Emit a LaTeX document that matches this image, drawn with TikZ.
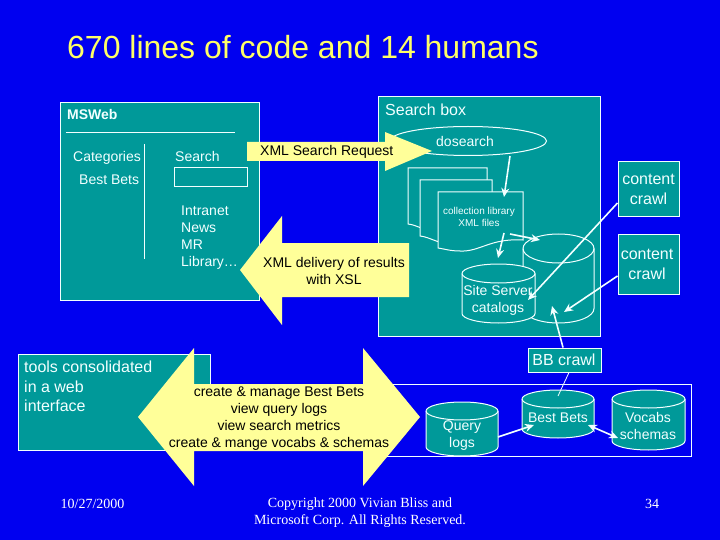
\documentclass[tikz,border=0pt]{standalone}
\usepackage{fontspec}
\setmainfont{Liberation Sans}
\newfontfamily\serifft{Liberation Serif}
\usetikzlibrary{arrows.meta,shapes.geometric}
\definecolor{bgblue}{HTML}{0000F0}
\definecolor{tealbox}{HTML}{009999}
\definecolor{paleyellow}{HTML}{FFFF99}
\definecolor{titleyellow}{HTML}{FFFF66}
\definecolor{softwhite}{HTML}{F2FFFF}
\tikzset{
  panel/.style={draw=softwhite,line width=1pt,fill=tealbox,rectangle,inner sep=0pt},
  flatline/.style={draw=softwhite,line width=1pt},
  docpage/.style={draw=softwhite,line width=1pt,fill=tealbox},
  storebody/.style={draw=softwhite,line width=1pt,fill=tealbox},
  bigarrow/.style={fill=paleyellow,draw=none},
  wlabel/.style={text=softwhite,inner sep=0pt,align=center,font=\fontsize{14}{17}\selectfont},
  wlarge/.style={text=softwhite,inner sep=0pt,align=center,font=\fontsize{16}{19.5}\selectfont},
  blabel/.style={text=black,inner sep=0pt,align=center,font=\fontsize{14}{17}\selectfont},
  footer/.style={text=white,inner sep=0pt,align=center,font=\serifft\fontsize{14}{17}\selectfont},
  flow/.style={draw=softwhite,line width=1.6pt,-{Stealth[length=9pt,width=8pt]}},
  flowboth/.style={draw=softwhite,line width=1.6pt,{Stealth[length=9pt,width=8pt]}-{Stealth[length=9pt,width=8pt]}},
  thin link/.style={draw=softwhite,line width=0.8pt}
}
% name, x1, y1, x2, y2, radius of the end ellipse
\newcommand\storecyl[6]{%
  \pgfmathsetmacro\cxx{(#2+#4)/2}\pgfmathsetmacro\cyy{(#3+#5)/2}%
  \pgfmathsetmacro\rxx{(#4-#2)/2}\pgfmathsetmacro\hh{#5-#3}\pgfmathsetmacro\ww{#4-#2}%
  \pgfmathsetmacro\kx{0.5523*\rxx}\pgfmathsetmacro\ky{0.5523*#6}%
  \pgfmathsetmacro\ytop{#3+#6}\pgfmathsetmacro\ybot{#5-#6}%
  \path[storebody] (#2,\ytop)
    .. controls (#2,\ytop-\ky) and (\cxx-\kx,#3) .. (\cxx,#3)
    .. controls (\cxx+\kx,#3) and (#4,\ytop-\ky) .. (#4,\ytop)
    -- (#4,\ybot)
    .. controls (#4,\ybot+\ky) and (\cxx+\kx,#5) .. (\cxx,#5)
    .. controls (\cxx-\kx,#5) and (#2,\ybot+\ky) .. (#2,\ybot)
    -- cycle;
  \draw[flatline] (#2,\ytop)
    .. controls (#2,\ytop+\ky) and (\cxx-\kx,\ytop+#6) .. (\cxx,\ytop+#6)
    .. controls (\cxx+\kx,\ytop+#6) and (#4,\ytop+\ky) .. (#4,\ytop);
  \node[inner sep=0pt,minimum width=\ww pt,minimum height=\hh pt] (#1) at (\cxx,\cyy) {};%
}
\begin{document}
\begin{tikzpicture}[x=1pt,y=-1pt]
\useasboundingbox (0,0) rectangle (720,540);
\fill[bgblue] (0,0) rectangle (720,540);
\node[text=titleyellow,inner sep=0pt,anchor=west,font=\fontsize{32}{38}\selectfont] (title) at (67,47) {670 lines of code and 14 humans};

% MSWeb panel
\node[panel,minimum width=199pt,minimum height=197pt] (msweb) at (159.5,201.5) {};
\draw[flatline] (66,133) -- (235,133);
\draw[flatline] (144,144) -- (144,259);
\node[wlabel,anchor=west,font=\bfseries\fontsize{14}{17}\selectfont] (mswebt) at (67,114) {MSWeb};
\node[wlabel,anchor=west] (categories) at (73,158) {Categories};
\node[wlabel,anchor=west] (bestbets) at (79,180) {Best Bets};
\node[wlabel,anchor=west] (searchl) at (175,156) {Search};
\node[panel,minimum width=73pt,minimum height=19pt] (searchfield) at (210.5,177.5) {};
\node[wlabel,anchor=north west,align=left] (sources) at (181,206) {Intranet\\News\\MR\\Library…};

% Search box panel
\node[panel,minimum width=222pt,minimum height=239pt] (searchbox) at (489.5,216.5) {};
\node[wlarge,anchor=west] (searchboxt) at (385,110) {Search box};
\node[ellipse,draw=softwhite,line width=1pt,fill=tealbox,minimum width=157pt,minimum height=29pt,inner sep=0pt] (dosearch) at (468,141) {};
\node[wlabel] (dosearcht) at (465,141) {dosearch};

% document stack
\draw[docpage] (408,168) -- (487,168) -- (487,228) -- (440,232) .. controls (425,232) and (418,225) .. (408,224) -- cycle;
\draw[docpage] (420,180) -- (492,180) -- (492,240) -- (452,244) .. controls (438,244) and (430,237) .. (420,236) -- cycle;
\draw[docpage] (438,192) -- (523,192) -- (523,240) .. controls (490,238) and (480,252) .. (460,251) .. controls (450,251) and (445,249) .. (438,248) -- cycle;
\node[text=softwhite,inner sep=0pt,align=center,font=\fontsize{10}{12.5}\selectfont] (collection) at (479,217) {collection library\\XML files};

% cylinders in the search box
\storecyl{contentstore}{523}{234}{594}{323}{14.5}
\storecyl{sitestore}{462}{264}{535}{323}{9.5}
\node[wlabel] (sitet) at (498,300) {Site Server\\catalogs};

% crawl boxes
\node[panel,minimum width=61pt,minimum height=55pt] (crawlA) at (648.5,189.5) {};
\node[wlarge] (crawlAt) at (648.5,189.5) {content\\crawl};
\node[panel,minimum width=61pt,minimum height=60pt] (crawlB) at (648.5,264) {};
\node[wlarge] (crawlBt) at (647,264.5) {content\\crawl};

% tools panel and admin band
\node[panel,minimum width=192pt,minimum height=96pt] (tools) at (114,402) {};
\node[wlarge,anchor=north west,align=left] (toolst) at (24,361) {tools consolidated\\in a web\\interface};
\node[draw=softwhite,line width=1pt,fill=bgblue,rectangle,inner sep=0pt,minimum width=321pt,minimum height=72pt] (adminband) at (530.5,420) {};

% cylinders in the band
\storecyl{querylogs}{426}{402}{498}{456}{9}
\node[wlabel] (queryt) at (462,436) {Query\\logs};
\storecyl{bestbetsdb}{522}{390}{594}{438}{9}
\node[wlabel] (bbdbt) at (558,418) {Best Bets};
\storecyl{vocabs}{612}{390}{685}{450}{9}
\node[wlabel] (vocabst) at (648,426) {Vocabs\\schemas};

% BB crawl
\node[panel,minimum width=73pt,minimum height=24pt] (bbcrawl) at (564.5,360) {};
\node[wlarge] (bbcrawlt) at (564,360) {BB crawl};

% large arrows
\fill[bigarrow] (247,142) -- (385,142) -- (385,132) -- (432,151) -- (385,171) -- (385,161) -- (247,161) -- cycle;
\node[blabel,anchor=west] (xmlreq) at (260,151.5) {XML Search Request};
\fill[bigarrow] (240,270) -- (282,216) -- (282,243) -- (409,243) -- (409,297) -- (282,297) -- (282,325) -- cycle;
\node[blabel] (xmldeliv) at (334,270.5) {XML delivery of results\\with XSL};
\fill[bigarrow] (138,417) -- (194,348) -- (194,384) -- (363,384) -- (363,348) -- (420,417) -- (363,486) -- (363,451) -- (194,451) -- (194,486) -- cycle;
\node[blabel] (tooltasks) at (279,419) {create \& manage Best Bets\\view query logs\\view search metrics\\create \& mange vocabs \& schemas};

% connectors
\draw[flow] ([xshift=42pt,yshift=-15pt]dosearch.center) -- ([xshift=25pt,yshift=20pt]collection.center);
\draw[flow] ([xshift=31pt,yshift=-17pt]collection.center) -- ([xshift=-18.5pt,yshift=38.5pt]contentstore.center);
\draw[flow] ([xshift=25pt,yshift=-16pt]collection.center) -- ([xshift=-0.5pt,yshift=35.5pt]sitestore.center);
\draw[flow] ([yshift=-13.5pt]crawlA.west) -- ([xshift=29.5pt,yshift=-6.5pt]sitestore.center);
\draw[flow] ([yshift=-12pt]crawlB.west) -- ([xshift=5.5pt,yshift=-33.5pt]contentstore.center);
\draw[flow] ([xshift=-1.5pt]bbcrawl.north) -- ([xshift=-6.5pt,yshift=-27.5pt]contentstore.center);
\draw[thin link] ([xshift=4.5pt]bbcrawl.south) -- ([yshift=18pt]bestbetsdb.center);
\draw[flow] ([xshift=36pt,yshift=-8pt]querylogs.center) -- ([xshift=-24pt,yshift=-11pt]bestbetsdb.center);
\draw[flowboth] ([xshift=30pt,yshift=-11pt]bestbetsdb.center) -- ([xshift=-30.5pt,yshift=-18pt]vocabs.center);

% footer
\node[footer] (datef) at (92.5,504) {10/27/2000};
\node[footer] (copyf) at (360,512.5) {Copyright 2000 Vivian Bliss and\\Microsoft Corp. All Rights Reserved.};
\node[footer] (pagef) at (652,504) {34};
\end{tikzpicture}
\end{document}
